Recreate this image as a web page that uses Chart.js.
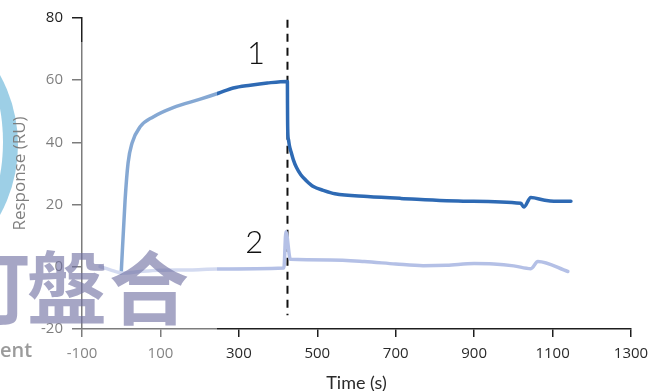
<!DOCTYPE html>
<html>
<head>
<meta charset="utf-8">
<script src="https://cdn.jsdelivr.net/npm/chart.js@4/dist/chart.umd.min.js"></script>
<style>
  html, body { margin: 0; padding: 0; background: #fff; }
  canvas { display: block; }
</style>
</head>
<body>
<canvas id="sensorgram" width="649" height="391"></canvas>
<script>
// Axis ticks
const timeTicks = [-100, 100, 300, 500, 700, 900, 1100, 1300];
const responseTicks = [-20, 0, 20, 40, 60, 80];

// Cycle 1: association, then dissociation after injection stop
const time1 = [0, 9.9, 17.5, 27.7, 48.2, 81.4, 132.5, 201.5, 247.5, 285.8, 329.2, 372.7, 423.8,
               424.0, 424.3, 425.0, 426.5, 429, 433, 439, 447, 458, 472, 490, 515, 545,
               628, 712.5, 883.6, 1019, 1026.7, 1044.6, 1080, 1103.4, 1146.8];
const response1 = [-2, 21.5, 33.4, 39.8, 45, 48.2, 51.2, 53.9, 55.8, 57.5, 58.4, 59.1, 59.6,
                   53, 47.2, 42.5, 40.9, 38.9, 37.0, 34.4, 31.9, 29.6, 27.7, 25.8, 24.6, 23.5,
                   22.6, 22.0, 21.1, 20.4, 19.2, 22.3, 21.4, 21.1, 21.1];

// Cycle 2: reference response
const time2 = [-54, -28, 4.8, 48.2, 99, 176, 245, 414.8, 420, 431.4, 533.6, 620, 700, 770,
               830, 900, 950, 1001, 1044.6, 1062.5, 1139];
const response2 = [0.1, -1.0, -2.0, -1.5, -1.1, -1.0, -0.7, -0.4, 11.3, 2.4, 2.2, 1.7, 0.9, 0.35,
                   0.5, 1.05, 0.9, 0.3, -0.6, 1.7, -1.5];

// Injection stop marker
const stopTime = 424;
const stopSpan = [79.4, -15.6];

// Cycle numbers placed at (time, response)
const cycleNames = ['1', '2'];
const cycleNameTime = [344, 339.5];
const cycleNameResp = [68.3, 7.6];

const toPoints = (xs, ys) => xs.map((x, i) => ({ x, y: ys[i] }));

const decor = {
  id: 'decor',
  beforeDraw(chart) {
    const ctx = chart.ctx;
    ctx.save();
    ctx.fillStyle = '#fff';
    ctx.fillRect(0, 0, chart.width, chart.height);
    // round logo ring at the left edge
    ctx.beginPath();
    ctx.arc(-127, 145, 145, 0, Math.PI * 2);
    ctx.clip();
    ctx.fillStyle = 'rgb(86,172,212)';
    ctx.fillRect(0, 0, 40, 300);
    ctx.beginPath();
    ctx.ellipse(-44, 142, 47, 95, 0, 0, Math.PI * 2);
    ctx.fillStyle = '#fff';
    ctx.fill();
    ctx.restore();
  },
  afterDatasetsDraw(chart) {
    const ctx = chart.ctx;
    const xs = chart.scales.x, ys = chart.scales.y;
    ctx.save();
    ctx.font = '300 31px Lato';
    ctx.fillStyle = '#111';
    ctx.textAlign = 'center';
    ctx.textBaseline = 'middle';
    cycleNames.forEach((name, i) => {
      ctx.fillText(name, xs.getPixelForValue(cycleNameTime[i]), ys.getPixelForValue(cycleNameResp[i]));
    });
    ctx.restore();
  },
  afterDraw(chart) {
    const ctx = chart.ctx;
    ctx.save();
    // faded panel on the left part
    ctx.fillStyle = 'rgba(255,255,255,0.42)';
    ctx.fillRect(0, 42, 217, chart.height - 42);
    // company watermark
    ctx.font = '700 80px "Noto Sans CJK TC"';
    ctx.fillStyle = 'rgba(112,112,162,0.62)';
    ctx.textBaseline = 'alphabetic';
    ctx.textAlign = 'left';
    ctx.fillText('訂', -50, 318);
    ctx.fillText('盤', 27, 318);
    ctx.fillText('合', 109, 318);
    ctx.font = '600 20px "Open Sans"';
    ctx.fillStyle = '#9b9b9b';
    ctx.fillText('ent', 0, 357);
    ctx.restore();
  }
};

const axisColor = '#1e1e1e';

new Chart(document.getElementById('sensorgram'), {
  type: 'line',
  data: {
    datasets: [
      {
        data: toPoints(time2, response2),
        borderColor: 'rgb(180,192,230)',
        borderWidth: 3.5,
        cubicInterpolationMode: 'monotone',
        borderCapStyle: 'round',
        borderJoinStyle: 'round',
        pointRadius: 0
      },
      {
        data: toPoints(time1, response1),
        borderColor: 'rgb(46,106,180)',
        borderWidth: 3.5,
        cubicInterpolationMode: 'monotone',
        borderCapStyle: 'round',
        borderJoinStyle: 'round',
        pointRadius: 0
      },
      {
        data: stopSpan.map(y => ({ x: stopTime, y })),
        borderColor: '#111',
        borderWidth: 2,
        borderDash: [8, 6],
        tension: 0,
        pointRadius: 0
      }
    ]
  },
  options: {
    responsive: false,
    animation: false,
    devicePixelRatio: 1,
    layout: { padding: { top: 18, right: 18, left: 0, bottom: 0 } },
    plugins: { legend: { display: false }, tooltip: { enabled: false } },
    scales: {
      x: {
        type: 'linear',
        min: -100,
        max: 1300,
        afterBuildTicks: s => { s.ticks = timeTicks.map(v => ({ value: v })); },
        afterFit: s => { s.height = 62; s.paddingLeft = 0; s.paddingRight = 0; },
        grid: { drawOnChartArea: false, drawTicks: true, tickLength: 8, color: axisColor, lineWidth: 1.5 },
        border: { display: true, color: axisColor, width: 1.5 },
        ticks: { color: '#2a2a2a', padding: 8, callback: v => String(v), font: { family: 'Open Sans', size: 15 } },
        title: {
          display: true, text: 'Time (s)', color: '#2a2a2a',
          font: { family: 'Lato', size: 18 }, padding: { top: 0, bottom: -3 }
        }
      },
      y: {
        type: 'linear',
        min: -20,
        max: 80,
        afterBuildTicks: s => { s.ticks = responseTicks.map(v => ({ value: v })); },
        afterFit: s => { s.width = 82; s.paddingTop = 0; s.paddingBottom = 0; },
        grid: { drawOnChartArea: false, drawTicks: true, tickLength: 10, color: axisColor, lineWidth: 1.5 },
        border: { display: true, color: axisColor, width: 1.5 },
        ticks: { color: '#1e1e1e', padding: 9, callback: v => String(v), font: { family: 'Open Sans', size: 15 } },
        title: {
          display: true, text: 'Response (RU)', color: '#222',
          font: { family: 'Open Sans', size: 17 }, padding: { top: 10, bottom: 0 }
        }
      }
    }
  },
  plugins: [decor]
});
</script>
</body>
</html>
